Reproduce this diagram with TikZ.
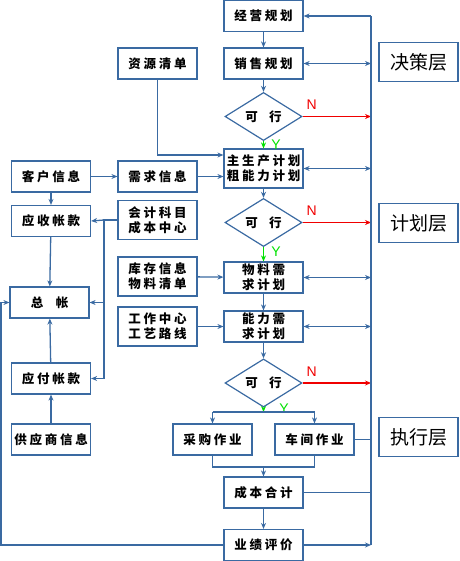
\documentclass[tikz,border=0pt]{standalone}
\usepackage{fontspec}
\usepackage{tikz}
\usetikzlibrary{arrows.meta,shapes.geometric}
\setmainfont{Noto Sans CJK SC}
\newfontfamily\boxfont[LetterSpace=22]{Noto Sans CJK SC}
\newfontfamily\labfont{Liberation Sans}
\definecolor{lineblue}{RGB}{58,106,162}
\definecolor{nored}{RGB}{240,0,0}
\definecolor{yesgreen}{RGB}{0,225,0}

\begin{document}
\begin{tikzpicture}[x=1pt,y=-1pt,
  box/.style={draw=lineblue, line width=1.2pt, minimum width=79pt, minimum height=31pt, inner sep=0.5pt, align=center, font=\boxfont\bfseries\fontsize{12.5}{15}\selectfont},
  tall/.style={box, minimum height=39pt},
  layer/.style={draw=lineblue, line width=1.2pt, minimum width=79pt, minimum height=39pt, font=\fontsize{19}{20}\selectfont},
  check/.style={diamond, draw=lineblue, line width=1.2pt, minimum width=77pt, minimum height=39pt, inner sep=0pt, font=\boxfont\bfseries\fontsize{12.5}{15}\selectfont},
  flow/.style={draw=lineblue, line width=1.3pt, -{Stealth[length=6pt,width=5pt]}},
  both/.style={draw=lineblue, line width=1.3pt, {Stealth[length=6pt,width=5pt]}-{Stealth[length=6pt,width=5pt]}},
  link/.style={draw=lineblue, line width=1.3pt},
  yes/.style={draw=yesgreen, line width=1.3pt, -{Stealth[length=6pt,width=5pt]}},
  no/.style={draw=nored, line width=1.3pt, -{Stealth[length=6pt,width=5pt]}},
  ylab/.style={text=yesgreen, font=\labfont\fontsize{14}{14}\selectfont},
  nlab/.style={text=nored, font=\labfont\fontsize{14}{14}\selectfont, anchor=south west, pos=0, yshift=3pt}
]
\useasboundingbox (0,0) rectangle (459,561);

\node[box] (jygh) at (263.5,16) {经营规划};
\node[box] (xsgh) at (263.5,63.5) {销售规划};
\node[box] (zyqd) at (157.5,63.5) {资源清单};
\node[check] (kx1) at (263.5,116.5) {可\hspace{0.9em}行};
\node[tall] (zsc) at (263.5,168.5) {主生产计划\\粗能力计划};
\node[box] (khxx) at (51,176.5) {客户信息};
\node[box] (xqxx) at (157.5,176.5) {需求信息};
\node[check] (kx2) at (263.5,222.5) {可\hspace{0.9em}行};
\node[box] (yszk) at (51,221) {应收帐款};
\node[tall] (kjkm) at (157.5,220) {会计科目\\成本中心};
\node[box] (wlxq) at (263.5,277.5) {物料需\\求计划};
\node[tall] (kcxx) at (157.5,276.5) {库存信息\\物料清单};
\node[box] (zz) at (49.5,302.5) {总\hspace{1em}帐};
\node[tall] (gzzx) at (157.5,326.5) {工作中心\\工艺路线};
\node[box] (nlxq) at (263.5,326.5) {能力需\\求计划};
\node[check] (kx3) at (263.5,383) {可\hspace{0.9em}行};
\node[box] (yfzk) at (51,378.5) {应付帐款};
\node[box] (gysxx) at (51,439.5) {供应商信息};
\node[box] (cgzy) at (212.5,439.5) {采购作业};
\node[box] (cjzy) at (314.5,439.5) {车间作业};
\node[box] (cbhj) at (263.5,492.5) {成本合计};
\node[box] (yjpj) at (263.5,545) {业绩评价};

\node[layer] (jcc) at (418.5,62) {决策层};
\node[layer] (jhc) at (418.5,223) {计划层};
\node[layer] (zxc) at (418.5,437) {执行层};

\coordinate (bustop) at (371,16);
\coordinate (busbot) at (371,545);
\coordinate (split) at (263.5,412);
\coordinate (merge) at (263.5,467);
\coordinate (left) at (1,545);
\coordinate (acc) at (104,220);

% main column
\draw[flow] (jygh) -- (xsgh);
\draw[flow] (xsgh) -- (kx1);
\draw[yes] (kx1) -- (zsc) node[ylab, pos=0.5, right=4pt] {Y};
\draw[no] (kx1.east) -- (kx1.east -| bustop) node[nlab] {N};
\draw[flow] (zsc) -- (kx2);
\draw[yes] (kx2) -- (wlxq) node[ylab, pos=0.35, right=4pt] {Y};
\draw[no] (kx2.east) -- (kx2.east -| bustop) node[nlab] {N};
\draw[flow] (wlxq) -- (nlxq);
\draw[flow] (nlxq) -- (kx3);
\draw[yes] (kx3) -- (split) node[ylab, pos=0.2, right=12pt] {Y};
\draw[no] (kx3.east) -- (kx3.east -| bustop) node[nlab] {N};
\draw[link] (cgzy.north |- split) -- (cjzy.north |- split);
\draw[flow] (cgzy.north |- split) -- (cgzy);
\draw[flow] (cjzy.north |- split) -- (cjzy);
\draw[link] (cgzy.south) |- (merge) -| (cjzy.south);
\draw[flow] (merge) -- (cbhj);
\draw[flow] (cbhj) -- (yjpj);

% inputs
\draw[flow] (zyqd.south) |- ([yshift=13.5pt]zsc.west);
\draw[flow] (khxx) -- (xqxx);
\draw[flow] (xqxx.east) -- (xqxx.east -| zsc.west);
\draw[flow] (kcxx) -- (wlxq);
\draw[flow] (gzzx) -- (nlxq);

% feedback bus
\draw[link] (bustop) -- (busbot);
\draw[flow] (bustop) -- (jygh);
\draw[both] (xsgh.east) -- (xsgh.east -| bustop);
\draw[both] (zsc.east) -- (zsc.east -| bustop);
\draw[both] (wlxq.east) -- (wlxq.east -| bustop);
\draw[both] (nlxq.east) -- (nlxq.east -| bustop);
\draw[link] (cjzy.east) -- (cjzy.east -| bustop);
\draw[link] (cbhj.east) -- (cbhj.east -| bustop);
\draw[flow] (yjpj.east) -- (busbot);
\draw[flow] (yjpj.west) -- (left) |- (zz.west);

% accounts
\draw[link] (kjkm.west) -- (acc) -- (acc |- yfzk.east);
\draw[flow] (acc) -- (yszk.east);
\draw[flow] (acc |- zz.east) -- (zz.east);
\draw[flow] (acc |- yfzk.east) -- (yfzk.east);
\draw[flow] (khxx) -- (yszk);
\draw[flow] (yszk) -- (zz);
\draw[flow] (yfzk) -- (zz);
\draw[flow] (gysxx) -- (yfzk);
\end{tikzpicture}
\end{document}
